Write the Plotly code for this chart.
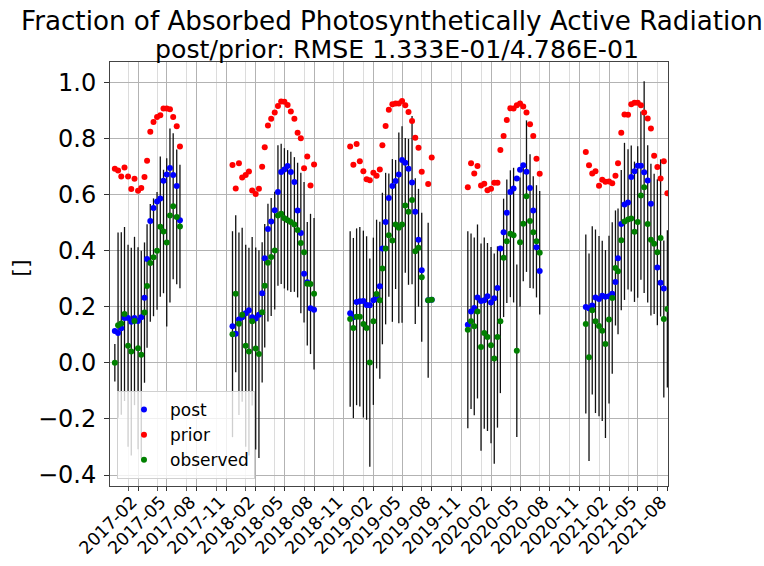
import plotly.graph_objects as go

# ---------------- data ----------------
dates_s1 = ["2016-11-21", "2016-12-01", "2016-12-11", "2016-12-21", "2017-01-01", "2017-01-11",
            "2017-01-21", "2017-02-01", "2017-02-11", "2017-02-21", "2017-03-01", "2017-03-11",
            "2017-03-21", "2017-04-01", "2017-04-11", "2017-04-21", "2017-05-01", "2017-05-11",
            "2017-05-21", "2017-06-01", "2017-06-11"]
post_s1 = [0.113, 0.106, 0.123, 0.160, 0.160, 0.146, 0.160, 0.149, 0.162, 0.232, 0.370, 0.505,
           0.552, 0.575, 0.586, 0.649, 0.671, 0.694, 0.669, 0.630, 0.508]
prior_s1 = [0.692, 0.685, 0.664, 0.696, 0.664, 0.619, 0.656, 0.613, 0.623, 0.662, 0.720, 0.823,
            0.858, 0.876, 0.882, 0.906, 0.906, 0.904, 0.876, 0.843, 0.771]
obs_s1 = [0.000, 0.134, 0.140, 0.174, 0.061, 0.040, 0.149, 0.052, 0.029, 0.179, 0.274, 0.356,
          0.376, 0.399, 0.485, 0.468, 0.429, 0.525, 0.558, 0.520, 0.486]
err_s1 = [0.067, 0.33, 0.325, 0.31, 0.36, 0.37, 0.30, 0.36, 0.37, 0.25, 0.22, 0.21, 0.21, 0.21,
          0.25, 0.22, 0.30, 0.31, 0.26, 0.24, 0.22]

dates_s2 = ["2017-11-21", "2017-12-01", "2017-12-11", "2017-12-21", "2018-01-01", "2018-01-11",
            "2018-01-21", "2018-02-01", "2018-02-11", "2018-02-21", "2018-03-01", "2018-03-11",
            "2018-03-21", "2018-04-01", "2018-04-11", "2018-04-21", "2018-05-01", "2018-05-11",
            "2018-05-21", "2018-06-01", "2018-06-11", "2018-06-21", "2018-07-01", "2018-07-11",
            "2018-07-21", "2018-08-01"]
post_s2 = [0.130, 0.104, 0.154, 0.162, 0.177, 0.187, 0.162, 0.158, 0.171, 0.248, 0.373, 0.477,
           0.504, 0.544, 0.609, 0.680, 0.689, 0.701, 0.680, 0.644, 0.543, 0.463, 0.317, 0.287,
           0.194, 0.189]
prior_s2 = [0.705, 0.621, 0.711, 0.660, 0.669, 0.682, 0.614, 0.602, 0.620, 0.699, 0.768, 0.846,
            0.870, 0.892, 0.915, 0.931, 0.930, 0.919, 0.896, 0.870, 0.820, 0.800, 0.693, 0.735,
            0.632, 0.707]
obs_s2 = [0.102, 0.246, 0.139, 0.171, 0.061, 0.040, 0.148, 0.051, 0.031, 0.180, 0.275, 0.357,
          0.377, 0.400, 0.525, 0.531, 0.515, 0.508, 0.502, 0.493, 0.473, 0.427, 0.394, 0.282,
          0.281, 0.246]
err_s2 = [0.367, 0.28, 0.325, 0.31, 0.36, 0.37, 0.30, 0.36, 0.37, 0.25, 0.22, 0.21, 0.21, 0.21,
          0.25, 0.25, 0.25, 0.25, 0.25, 0.24, 0.24, 0.25, 0.25, 0.22, 0.25, 0.27]

dates_s3 = ["2018-11-21", "2018-12-01", "2018-12-11", "2018-12-21", "2019-01-01", "2019-01-11",
            "2019-01-21", "2019-02-01", "2019-02-11", "2019-02-21", "2019-03-01", "2019-03-11",
            "2019-03-21", "2019-04-01", "2019-04-11", "2019-04-21", "2019-05-01", "2019-05-11",
            "2019-05-21", "2019-06-01", "2019-06-11", "2019-06-21", "2019-07-01", "2019-07-21",
            "2019-08-01"]
post_s3 = [0.177, 0.162, 0.217, 0.219, 0.220, 0.206, 0.205, 0.223, 0.229, 0.273, 0.407, 0.502,
           0.587, 0.630, 0.648, 0.671, 0.723, 0.713, 0.692, 0.643, 0.538, 0.439, 0.330, 0.223,
           0.225]
prior_s3 = [0.771, 0.706, 0.780, 0.718, 0.683, 0.654, 0.651, 0.677, 0.667, 0.689, 0.775, 0.844,
            0.902, 0.921, 0.924, 0.924, 0.933, 0.918, 0.894, 0.862, 0.802, 0.766, 0.681, 0.637,
            0.732]
obs_s3 = [0.156, 0.124, 0.164, 0.164, 0.138, 0.124, 0.001, 0.148, 0.245, 0.223, 0.336, 0.407,
          0.455, 0.436, 0.493, 0.481, 0.493, 0.561, 0.538, 0.580, 0.398, 0.410, 0.305, 0.223,
          0.225]
err_s3 = [0.3125, 0.321, 0.315, 0.32, 0.333, 0.327, 0.371, 0.298, 0.265, 0.28, 0.27, 0.27, 0.22,
          0.29, 0.23, 0.34, 0.35, 0.24, 0.26, 0.30, 0.26, 0.21, 0.23, 0.276, 0.0]

dates_s4 = ["2019-11-21", "2019-12-01", "2019-12-11", "2019-12-21", "2020-01-01", "2020-01-11",
            "2020-01-21", "2020-02-01", "2020-02-11", "2020-02-21", "2020-03-01", "2020-03-11",
            "2020-03-21", "2020-04-01", "2020-04-11", "2020-04-21", "2020-05-01", "2020-05-11",
            "2020-05-21", "2020-06-01", "2020-06-11", "2020-06-21", "2020-07-01"]
post_s4 = [0.136, 0.183, 0.195, 0.233, 0.220, 0.223, 0.237, 0.215, 0.230, 0.267, 0.407, 0.465,
           0.535, 0.609, 0.621, 0.657, 0.688, 0.704, 0.681, 0.623, 0.543, 0.412, 0.327]
prior_s4 = [0.626, 0.711, 0.675, 0.701, 0.632, 0.638, 0.615, 0.620, 0.642, 0.642, 0.758, 0.808,
            0.865, 0.907, 0.906, 0.918, 0.924, 0.913, 0.892, 0.850, 0.808, 0.727, 0.674]
obs_s4 = [0.118, 0.148, 0.130, 0.183, 0.056, 0.106, 0.092, 0.063, 0.015, 0.092, 0.148, 0.374,
          0.433, 0.460, 0.455, 0.043, 0.430, 0.496, 0.594, 0.505, 0.465, 0.433, 0.392]
err_s4 = [0.351, 0.3125, 0.317, 0.31, 0.369, 0.341, 0.335, 0.35, 0.375, 0.323, 0.256, 0.211,
          0.22, 0.226, 0.24, 0.307, 0.23, 0.205, 0.27, 0.238, 0.20, 0.20, 0.22]

dates_s5 = ["2020-11-21", "2020-12-01", "2020-12-11", "2020-12-21", "2021-01-01", "2021-01-11",
            "2021-01-21", "2021-02-01", "2021-02-11", "2021-02-21", "2021-03-01", "2021-03-11",
            "2021-03-21", "2021-04-01", "2021-04-11", "2021-04-21", "2021-05-01", "2021-05-11",
            "2021-05-21", "2021-06-01", "2021-06-11", "2021-06-21", "2021-07-01", "2021-07-11",
            "2021-07-21", "2021-08-01"]
post_s5 = [0.199, 0.194, 0.204, 0.233, 0.227, 0.239, 0.235, 0.237, 0.246, 0.288, 0.373, 0.495,
           0.564, 0.571, 0.662, 0.683, 0.702, 0.702, 0.679, 0.650, 0.567, None, 0.340, 0.285,
           0.265, None]
prior_s5 = [0.751, 0.704, 0.675, 0.683, 0.631, 0.652, 0.645, 0.646, 0.640, 0.667, 0.711, 0.820,
            0.885, 0.884, 0.921, 0.927, 0.927, 0.918, 0.892, 0.871, 0.835, 0.738, 0.698, 0.657,
            0.718, 0.604]
obs_s5 = [0.138, 0.020, 0.187, 0.148, 0.131, 0.114, 0.067, 0.154, 0.231, 0.338, 0.326, 0.437,
          0.504, 0.511, 0.514, 0.467, 0.502, 0.596, 0.626, 0.495, 0.439, 0.424, 0.394, 0.445,
          0.156, 0.192]
err_s5 = [0.319, 0.37, 0.30, 0.327, 0.321, 0.321, 0.335, 0.299, 0.27, 0.205, 0.224, 0.25, 0.28,
          0.25, 0.26, 0.25, 0.27, 0.30, 0.377, 0.28, 0.27, 0.25, 0.26, 0.28, 0.28, 0.28]

y_ticks = [-0.4, -0.2, 0.0, 0.2, 0.4, 0.6, 0.8, 1.0]
x_tick_dates = ["2017-02-01", "2017-05-01", "2017-08-01", "2017-11-01", "2018-02-01", "2018-05-01",
                "2018-08-01", "2018-11-01", "2019-02-01", "2019-05-01", "2019-08-01", "2019-11-01",
                "2020-02-01", "2020-05-01", "2020-08-01", "2020-11-01", "2021-02-01", "2021-05-01",
                "2021-08-01"]
x_tick_labels = ["2017-02", "2017-05", "2017-08", "2017-11", "2018-02", "2018-05", "2018-08",
                 "2018-11", "2019-02", "2019-05", "2019-08", "2019-11", "2020-02", "2020-05",
                 "2020-08", "2020-11", "2021-02", "2021-05", "2021-08"]
x_minor_dates = ["2017-01-01", "2017-04-01", "2017-07-01", "2017-10-01", "2018-01-01", "2018-04-01",
                 "2018-07-01", "2018-10-01", "2019-01-01", "2019-04-01", "2019-07-01", "2019-10-01",
                 "2020-01-01", "2020-04-01", "2020-07-01", "2020-10-01", "2021-01-01", "2021-04-01",
                 "2021-07-01"]

title_line1 = "Fraction of Absorbed Photosynthetically Active Radiation"
title_line2 = "post/prior: RMSE 1.333E-01/4.786E-01"
y_label = "[]"

# ---------------- assemble ----------------
dates = dates_s1 + dates_s2 + dates_s3 + dates_s4 + dates_s5
post = post_s1 + post_s2 + post_s3 + post_s4 + post_s5
prior = prior_s1 + prior_s2 + prior_s3 + prior_s4 + prior_s5
obs = obs_s1 + obs_s2 + obs_s3 + obs_s4 + obs_s5
err = err_s1 + err_s2 + err_s3 + err_s4 + err_s5

FONT = "DejaVu Sans"
MS = 6

fig = go.Figure()
# error bars of the observations (drawn first, underneath)
fig.add_trace(go.Scatter(
    x=dates, y=obs, mode="markers", showlegend=False, hoverinfo="skip",
    marker=dict(size=1, color="rgba(0,0,0,0)"),
    error_y=dict(type="data", array=err, visible=True, color="#111111", thickness=1.3, width=0),
))
fig.add_trace(go.Scatter(x=dates, y=post, mode="markers", name="post", legendgroup="a",
                         marker=dict(size=MS, color="#0000ff")))
fig.add_trace(go.Scatter(x=dates, y=prior, mode="markers", name="prior", legendgroup="b",
                         marker=dict(size=MS, color="#ff0000")))
fig.add_trace(go.Scatter(x=dates, y=obs, mode="markers", name="observed", legendgroup="c",
                         marker=dict(size=MS, color="#008000")))

fig.update_layout(
    width=764, height=566,
    margin=dict(l=110, r=96, t=62, b=80, autoexpand=False),
    paper_bgcolor="white", plot_bgcolor="white",
    font=dict(family=FONT, color="black"),
    showlegend=True,
    legend=dict(x=0.0125, y=0.0165, xanchor="left", yanchor="bottom",
                bgcolor="rgba(255,255,255,0.8)", bordercolor="#d0d0d0", borderwidth=1,
                font=dict(size=17, family=FONT), tracegroupgap=0, itemwidth=42,
                traceorder="grouped"),
    annotations=[
        dict(text=title_line1, x=0.5054, y=1.097, xref="paper", yref="paper",
             xanchor="center", yanchor="middle", showarrow=False,
             font=dict(size=26.2, family=FONT, color="black")),
        dict(text=title_line2, x=0.515, y=1.0305, xref="paper", yref="paper",
             xanchor="center", yanchor="middle", showarrow=False,
             font=dict(size=25.2, family=FONT, color="black")),
        dict(text=y_label, x=-0.1595, y=0.515, xref="paper", yref="paper",
             xanchor="center", yanchor="middle", showarrow=False, textangle=-90,
             font=dict(size=22, family=FONT, color="black")),
    ],
)

fig.update_xaxes(
    type="date", range=["2016-11-06", "2021-08-03"], automargin=False,
    tickmode="array", tickvals=x_tick_dates, ticktext=x_tick_labels,
    tickangle=-45, tickfont=dict(size=17.5, family=FONT, color="black"),
    ticks="outside", ticklen=4, tickcolor="#333333",
    ticklabelstandoff=-6, ticklabelshift=-6,
    showgrid=True, gridcolor="#b3b3b3", gridwidth=1,
    minor=dict(tickmode="array", tickvals=x_minor_dates, ticks="outside", ticklen=4,
               tickcolor="#555555", showgrid=True, gridcolor="#dcdcdc", gridwidth=1),
    showline=True, linecolor="#444444", linewidth=1, mirror=True, zeroline=False,
)
fig.update_yaxes(
    range=[-0.439, 1.072], automargin=False,
    tickmode="array", tickvals=y_ticks,
    ticktext=[("\u2212" if v < 0 else "") + f"{abs(v):.1f}" for v in y_ticks],
    tickfont=dict(size=24, family=FONT, color="black"),
    ticks="outside", ticklen=5, tickcolor="#333333", ticklabelstandoff=3,
    showgrid=True, gridcolor="#b3b3b3", gridwidth=1,
    showline=True, linecolor="#444444", linewidth=1, mirror=True, zeroline=False,
)

# remove the page's default 8px body margin so the figure sits at the window's corner
fig.write_html("out.html", config={"displayModeBar": False},
               post_script="document.body.style.margin='0px';")
